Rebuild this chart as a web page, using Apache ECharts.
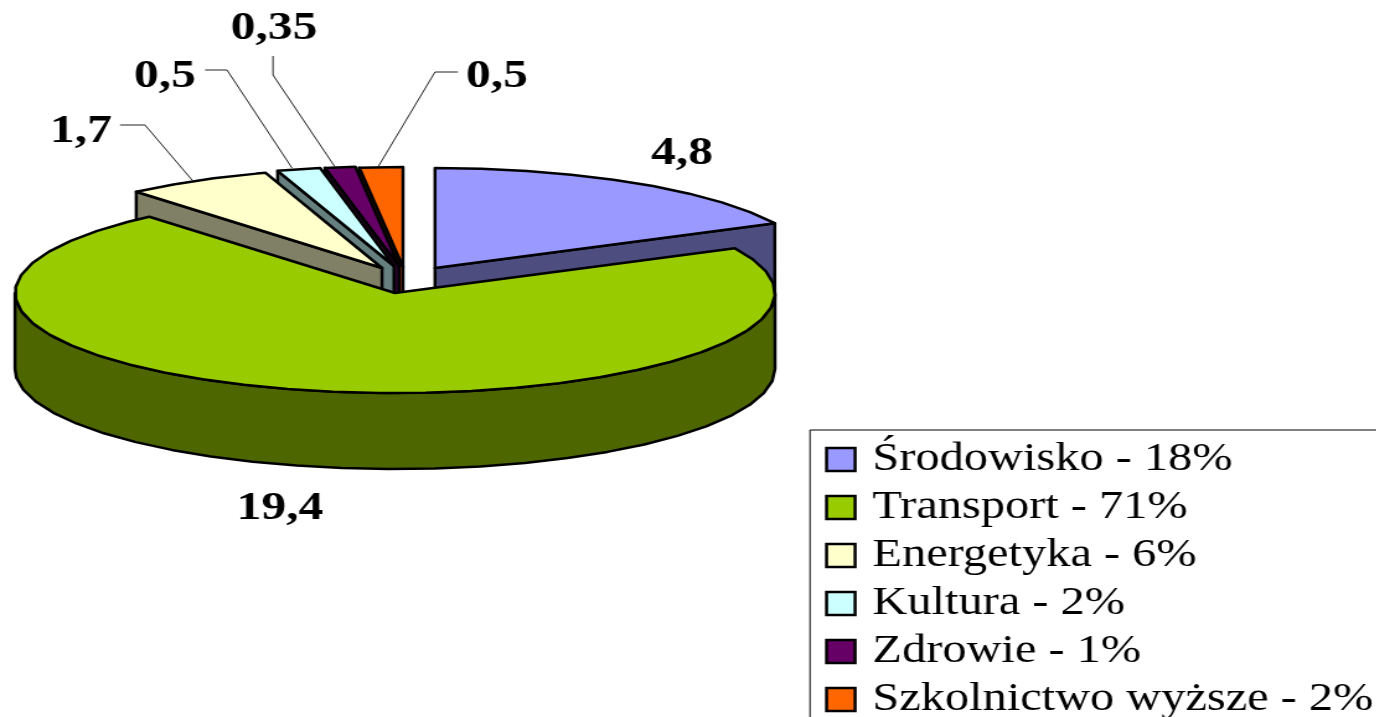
<!DOCTYPE html>
<html lang="pl">
<head>
  <meta charset="UTF-8">
  <title>Wydatki</title>
  <script src="https://cdn.jsdelivr.net/npm/echarts@6/dist/echarts.min.js"></script>
  <style>
    html, body { margin: 0; height: 100%; overflow: hidden; background: #fff; }
    /* the original picture is stretched sideways, text included */
    #main { width: 1110px; height: 800px; transform: scaleX(1.24); transform-origin: 0 0; }
  </style>
</head>
<body>
<div id="main"></div>
<script type="text/javascript">
  var categories = ['Środowisko', 'Transport', 'Energetyka', 'Kultura', 'Zdrowie', 'Szkolnictwo wyższe'];
  var values = [4.8, 19.4, 1.7, 0.5, 0.35, 0.5];
  var shares = [18, 71, 6, 2, 1, 2];

  var topColors = ['#9999FF', '#99CC00', '#FFFFCC', '#CCFFFF', '#660066', '#FF6600'];
  var sideColors = ['#4D4D80', '#4D6600', '#808066', '#668080', '#330033', '#803300'];

  // layout, in picture pixels before the sideways stretch is taken out
  var STRETCH = 1.24;
  var RX = 380, RY = 100, DEPTH = 76, STEP = 7;
  var centers = [[435, 268], [395, 293], [382, 268], [394, 266], [399, 266], [403, 267]];
  var labelPos = [[682, 154], [280, 509], [81, 132], [165, 77], [274, 29], [497, 77]];
  var leaders = [null, null,
    [[120, 125], [145, 125], [192, 180]],
    [[205, 70], [227, 70], [292, 168]],
    [[273, 56], [273, 75], [335, 167]],
    [[458, 72], [435, 72], [378, 167]]];
  var drawOrder = [5, 4, 3, 2, 0, 1];

  var total = values.reduce(function (a, b) { return a + b; }, 0);
  var legendNames = categories.map(function (c, i) { return c + ' - ' + shares[i] + '%'; });

  function sx(x) { return x / STRETCH; }

  function rim(c, deg, drop) {
    var a = deg * Math.PI / 180;
    return [sx(c[0] + RX * Math.sin(a)), c[1] - RY * Math.cos(a) + (drop || 0)];
  }

  function arc(c, from, to, drop) {
    var pts = [];
    for (var d = from; d < to; d += STEP) pts.push(rim(c, d, drop));
    pts.push(rim(c, to, drop));
    return pts;
  }

  function poly(points, fill) {
    return {
      type: 'polygon',
      shape: { points: points },
      style: { fill: fill, stroke: '#000', lineWidth: 2.5, lineJoin: 'round' }
    };
  }

  function makeRender(i) {
    return function (params, api) {
      var value = api.value(0);
      var before = values.slice(0, i).reduce(function (a, b) { return a + b; }, 0);
      var from = before / total * 360;
      var to = from + value / total * 360;
      var c = centers[i];
      var apex = [sx(c[0]), c[1]];
      var apexLow = [sx(c[0]), c[1] + DEPTH];
      var kids = [];

      // cut faces that look towards the viewer
      if (from > 180) kids.push(poly([apex, rim(c, from), rim(c, from, DEPTH), apexLow], sideColors[i]));
      if (to < 180) kids.push(poly([apex, rim(c, to), rim(c, to, DEPTH), apexLow], sideColors[i]));
      // outer wall, front half only
      var wallFrom = Math.max(from, 90), wallTo = Math.min(to, 270);
      if (wallFrom < wallTo) {
        kids.push(poly(arc(c, wallFrom, wallTo, 0).concat(arc(c, wallFrom, wallTo, DEPTH).reverse()), sideColors[i]));
      }
      kids.push(poly([apex].concat(arc(c, from, to, 0)), topColors[i]));

      if (leaders[i]) {
        kids.push({
          type: 'polyline',
          shape: { points: leaders[i].map(function (p) { return [sx(p[0]), p[1]]; }) },
          style: { fill: null, stroke: '#222', lineWidth: 1 }
        });
      }
      kids.push({
        type: 'text',
        style: {
          text: String(value).replace('.', ','),
          x: sx(labelPos[i][0]), y: labelPos[i][1],
          fontFamily: 'Liberation Serif', fontWeight: 'bold', fontSize: 40,
          fill: '#000', textAlign: 'center', textVerticalAlign: 'middle'
        }
      });
      return { type: 'group', children: kids };
    };
  }

  var myChart = echarts.init(document.getElementById('main'));

  var series = categories.map(function (c, i) {
    return {
      type: 'custom',
      name: legendNames[i],
      coordinateSystem: 'none',
      z: 2 + drawOrder.indexOf(i),
      silent: true,
      itemStyle: { color: topColors[i] },
      renderItem: makeRender(i),
      data: [[values[i]]]
    };
  });

  myChart.setOption({
    animation: false,
    graphic: [{
      type: 'rect',
      shape: { x: sx(810), y: 430, width: 700, height: 500 },
      style: { fill: '#fff', stroke: '#000', lineWidth: 1 },
      z: 0
    }],
    legend: {
      orient: 'vertical',
      left: sx(825),
      top: 440,
      padding: 0,
      itemWidth: 23,
      itemHeight: 23,
      itemGap: 9,
      textStyle: {
        fontFamily: 'Liberation Serif', fontSize: 39, color: '#000',
        padding: [0, 0, 0, 9]
      },
      data: legendNames.map(function (n, i) {
        return {
          name: n, icon: 'rect',
          itemStyle: { color: topColors[i], borderColor: '#000', borderWidth: 2.5 }
        };
      })
    },
    series: series
  });
</script>
</body>
</html>
